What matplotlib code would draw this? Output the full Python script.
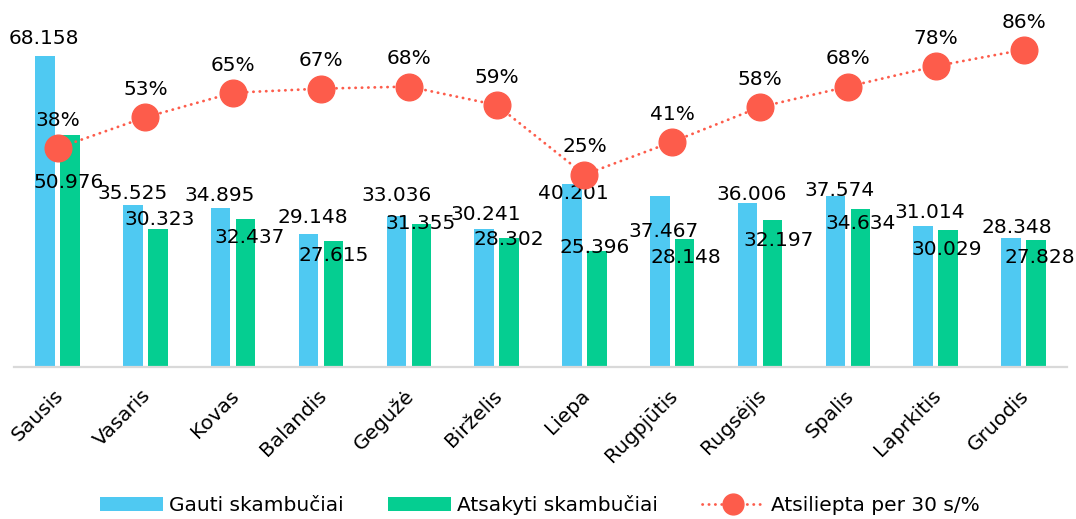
import numpy as np
import matplotlib
matplotlib.use("Agg")
import matplotlib.pyplot as plt
import matplotlib.transforms as mtransforms
from matplotlib.patches import Patch
from matplotlib.lines import Line2D

months = ["Sausis", "Vasaris", "Kovas", "Balandis", "Gegužė", "Birželis",
          "Liepa", "Rugpjūtis", "Rugsėjis", "Spalis", "Laprkitis", "Gruodis"]
received = [68.158, 35.525, 34.895, 29.148, 33.036, 30.241,
            40.201, 37.467, 36.006, 37.574, 31.014, 28.348]
answered = [50.976, 30.323, 32.437, 27.615, 31.355, 28.302,
            25.396, 28.148, 32.197, 34.634, 30.029, 27.828]
pct30 = [38, 53, 65, 67, 68, 59, 25, 41, 58, 68, 78, 86]

# label placement offsets (pixels) relative to bar top, as in the reference
blue_dx = [-1, 0, -1, 4, 0, 2, 1, 4, 4, 4, 7, 6]
blue_dy = [19.5, 13.5, 14.5, 18.5, 23, 16.5, -7.5, -33, 10, 7.5, 14.5, 12]
green_dx = [-1.5, 2, 4, 0, -1, 0, -2, 1, 6, 0, -1, 4]
green_dy = [-46.5, 11.5, -16.5, -13, 2, 0, 6, -17, -18, -13, -18, -15]

BLUE = "#4FC9F2"
GREEN = "#05CE91"
RED = "#FD5C4B"
FS = 14.5
PX = 72 / 100.0  # points per pixel

plt.rcParams['font.family'] = ['DejaVu Sans']

fig = plt.figure(figsize=(10.76, 5.19), dpi=100)
ax = fig.add_axes([0.01264, 0.2923, 0.9794, 0.6884])
ax2 = ax.twinx()

x = np.arange(len(months))
w = 0.222
off = 0.142
ax.bar(x - off, received, width=w, color=BLUE, zorder=2)
ax.bar(x + off, answered, width=w, color=GREEN, zorder=2)

ax.set_xlim(-0.5, len(months) - 0.5)
ax.set_ylim(0, 78.24)
ax2.set_ylim(-69.1, 105.4)

digit_half = 7.3
for i in range(len(months)):
    ax.annotate(f"{received[i]:.3f}", xy=(x[i] - off, received[i]),
                xytext=(blue_dx[i] * PX, (blue_dy[i] - digit_half) * PX),
                textcoords="offset points", ha="center", va="baseline",
                fontsize=FS, color="black", zorder=5)
    ax.annotate(f"{answered[i]:.3f}", xy=(x[i] + off, answered[i]),
                xytext=(green_dx[i] * PX, (green_dy[i] - digit_half) * PX),
                textcoords="offset points", ha="center", va="baseline",
                fontsize=FS, color="black", zorder=5)

ax2.plot(x, pct30, color=RED, lw=2.0, linestyle=(0, (0.1, 2.2)),
         dash_capstyle="round", marker="o", markersize=19.2,
         markerfacecolor=RED, markeredgecolor=RED, zorder=4)
for i in range(len(months)):
    ax2.annotate(f"{pct30[i]}%", xy=(x[i], pct30[i]),
                 xytext=(0, (29.5 - digit_half) * PX),
                 textcoords="offset points", ha="center", va="baseline",
                 fontsize=FS, color="black", zorder=6)

for a in (ax, ax2):
    for s in ("top", "right", "left"):
        a.spines[s].set_visible(False)
    a.set_yticks([])
ax2.spines["bottom"].set_visible(False)
ax.spines["bottom"].set_color("#D9D9D9")
ax.spines["bottom"].set_linewidth(1.6)
ax.set_xticks(x)
ax.set_xticklabels(months, rotation=45, ha="right", rotation_mode="anchor",
                   fontsize=FS)
ax.tick_params(axis="x", length=0, pad=12)
shift = mtransforms.ScaledTranslation(-4 / 100, -2 / 100, fig.dpi_scale_trans)
for lbl in ax.get_xticklabels():
    lbl.set_transform(lbl.get_transform() + shift)

handles = [Patch(facecolor=BLUE, edgecolor="none"),
           Patch(facecolor=GREEN, edgecolor="none"),
           Line2D([], [], color=RED, lw=2.0, linestyle=(0, (0.1, 2.2)),
                  dash_capstyle="round", marker="o", markersize=15,
                  markerfacecolor=RED, markeredgecolor=RED)]
labels = ["Gauti skambučiai", "Atsakyti skambučiai", "Atsiliepta per 30 s/%"]
fig.legend(handles, labels, loc="center", bbox_to_anchor=(0.5016, 0.027),
           ncol=3, frameon=False, fontsize=FS, handlelength=3.13,
           handleheight=0.7, handletextpad=0.3, columnspacing=2.2,
           borderaxespad=0, borderpad=0)

fig.savefig("out.png", dpi=100)
